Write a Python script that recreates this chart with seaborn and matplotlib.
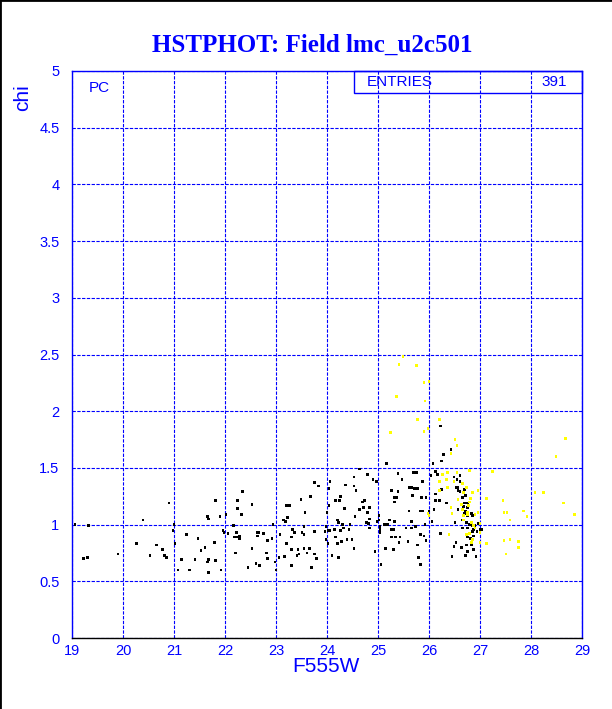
import matplotlib
matplotlib.use("Agg")
import matplotlib.pyplot as plt
import numpy as np
import pandas as pd
import seaborn as sns
from matplotlib.lines import Line2D
from matplotlib.patches import Rectangle
from matplotlib.ticker import MultipleLocator

# black points (main sample)
black_x = [
    19.06, 19.33, 19.22, 19.31, 19.90, 20.39, 20.27, 20.53, 20.65, 20.78, 20.82, 20.86, 20.90,
    20.98, 21.00, 21.02, 21.14, 21.08, 21.24, 21.31, 21.41, 21.47, 21.53, 21.61, 21.65, 21.67,
    21.67, 21.65, 21.67, 21.80, 21.82, 21.82, 21.90, 21.92, 22.02, 21.96, 21.98, 22.06, 22.16,
    22.18, 22.22, 22.22, 22.25, 22.24, 22.33, 22.35, 22.29, 22.29, 22.20, 22.45,
    22.53, 22.63, 22.65, 22.63, 22.76, 22.53, 22.61, 22.67, 22.82, 22.84, 22.92, 22.94, 22.84,
    23.00, 22.98, 23.08, 23.06, 23.16, 23.14, 23.18, 23.22, 23.21, 23.26, 23.20, 23.31, 23.33,
    23.31, 23.37, 23.31, 23.41, 23.45, 23.43, 23.49, 23.51, 23.55, 23.55, 23.57, 23.55, 23.61,
    23.65, 23.67, 23.69, 23.75, 23.76, 23.84, 23.76, 23.80, 23.96, 24.00, 23.98, 23.98, 24.02,
    24.02, 24.06, 24.04, 24.06, 24.04, 24.14, 24.16, 24.16, 24.20, 24.24, 24.20, 24.22, 24.27,
    24.27, 24.10, 24.22, 24.37, 24.35, 24.31, 24.29, 24.33, 24.39, 24.49, 24.45, 24.43, 24.53,
    24.53, 24.57, 24.53, 24.55, 24.63, 24.63, 24.69, 24.73, 24.71, 24.78, 24.80, 24.80, 24.82,
    24.84, 24.84, 24.84, 24.90, 24.96, 24.98, 24.94, 24.98, 25.02, 25.02, 25.04, 25.04, 25.06,
    25.04, 25.14, 25.12, 25.18, 25.16, 25.22, 25.27, 25.31, 25.27, 25.27, 25.31, 25.33, 25.37,
    25.33, 25.33, 25.35, 25.39, 25.39, 25.41, 25.43, 25.47, 25.55, 25.61, 25.61, 25.65, 25.59,
    25.65, 25.65, 25.67, 25.69, 25.75, 25.71, 25.73, 25.78, 25.78, 25.80, 25.84, 25.88, 25.86,
    25.88, 25.90, 25.92, 25.84,
    26.22, 26.43, 26.29, 26.24, 26.08, 26.12, 26.04, 26.16, 26.49, 26.55, 26.61, 26.24, 26.12,
    26.53, 26.57, 26.57, 26.61, 26.61, 26.69, 26.71, 26.65, 26.69, 26.75, 26.75, 26.67, 26.20,
    26.12, 25.94, 26.35, 26.00, 26.10, 26.57, 26.71, 26.69, 26.84, 26.86, 26.75, 26.06, 26.51,
    26.65, 26.73, 26.80, 26.86, 26.90, 26.96, 26.76, 26.65, 26.86, 26.88, 27.00, 27.04, 26.94,
    26.22, 25.84, 25.94, 26.76, 26.73, 26.84, 26.53, 26.49, 26.63, 26.82, 26.88, 26.76, 26.88,
    26.71, 26.45, 26.92,
]
black_y = [
    1.00, 0.99, 0.70, 0.71, 0.74, 1.04, 0.83, 0.73, 0.82, 0.78, 0.73, 0.71, 1.19,
    0.95, 1.00, 0.83, 0.69, 0.60, 0.91, 0.60, 0.69, 0.88, 0.77, 0.80, 0.67, 0.69,
    0.58, 1.07, 1.05, 0.84, 0.68, 1.21, 1.07, 0.60, 1.09, 0.95, 0.93, 0.92, 0.99,
    0.89, 0.89, 0.93, 1.21, 1.14, 1.09, 1.29, 0.90, 0.88, 0.75, 0.62,
    1.18, 0.93, 0.93, 0.90, 0.92, 0.79, 0.66, 0.64, 0.75, 0.86, 0.88, 1.00, 0.70,
    0.60, 0.67, 0.91, 0.71, 0.72, 1.04, 1.03, 1.06, 1.17, 1.17, 0.83, 0.64, 0.96,
    0.89, 0.93, 0.78, 0.73, 0.74, 0.78, 1.22, 0.93, 0.79, 0.98, 1.11, 0.91, 0.75,
    0.79, 1.25, 0.62, 0.94, 1.37, 1.34, 0.74, 0.70, 0.94, 1.11, 0.98, 0.87, 0.83,
    0.95, 0.95, 1.32, 1.38, 1.17, 0.96, 0.89, 1.21, 0.83, 1.21, 1.04, 1.02, 1.25,
    0.95, 0.73, 0.71, 1.35, 1.14, 1.00, 0.85, 0.97, 0.87, 0.87, 1.00, 0.96, 1.42,
    1.34, 1.30, 0.79, 1.07, 1.49, 1.13, 1.20, 1.21, 1.15, 1.02, 1.44, 1.11, 1.01,
    1.15, 1.05, 0.97, 1.40, 1.38, 1.38, 0.76, 1.03, 1.08, 1.04, 0.98, 0.96, 0.65,
    0.93, 0.79, 1.00, 1.00, 1.54, 1.04, 0.96, 0.96, 1.30, 0.89, 0.78, 1.24, 1.24,
    1.20, 1.03, 0.89, 1.45, 1.29, 0.84, 0.89, 1.40, 0.97, 1.12, 1.33, 1.33, 0.85,
    1.03, 0.97, 1.26, 1.46, 1.46, 1.32, 0.98, 0.82, 1.32, 0.71, 1.12, 1.12, 1.24,
    1.38, 0.90, 1.00, 0.65,
    1.87, 1.66, 1.62, 1.56, 1.54, 1.47, 1.43, 1.44, 1.42, 1.40, 1.43, 1.31, 1.27,
    1.33, 1.33, 1.30, 1.29, 1.38, 1.31, 1.26, 1.24, 1.19, 1.19, 1.15, 1.16, 1.21,
    1.21, 1.24, 1.19, 1.12, 1.13, 1.13, 1.12, 1.10, 1.10, 1.08, 1.08, 1.03, 1.02,
    1.04, 1.02, 1.00, 0.99, 0.99, 1.01, 0.97, 0.97, 0.94, 0.96, 0.96, 0.96, 0.94,
    0.92, 0.91, 0.86, 0.89, 0.82, 0.82, 0.84, 0.81, 0.80, 0.88, 0.90, 0.76, 0.78,
    0.73, 0.72, 0.72,
]

# yellow points (faint / rejected stars)
yellow_x = [
    25.49, 25.41, 25.75, 25.90, 26.00, 25.92, 25.37, 25.78, 26.20, 25.98, 25.90, 25.25, 26.51,
    26.55, 26.43, 26.80, 27.24, 26.27, 26.37, 26.55, 26.35, 26.49, 26.20, 26.37, 26.65, 26.73,
    26.20, 26.67, 26.86, 26.96, 26.82, 26.80, 26.63, 26.77, 26.43, 26.57, 27.12, 27.45, 26.65,
    26.76, 26.75, 26.45, 26.90, 26.96, 26.00, 26.67, 27.47, 27.53, 26.67, 26.84, 26.88, 26.90,
    27.00, 27.59, 27.00, 26.39, 26.73, 26.80, 26.86, 26.84, 27.00, 27.12, 27.47, 27.59, 27.75,
    27.76, 27.51, 25.98, 28.67, 28.49, 28.08, 28.25, 28.63, 28.86, 27.86, 27.92,
]
yellow_y = [
    2.48, 2.41, 2.40, 2.25, 2.26, 2.09, 2.13, 1.93, 1.93, 1.85, 1.82, 1.81, 1.75,
    1.70, 1.63, 1.48, 1.47, 1.44, 1.46, 1.46, 1.40, 1.38, 1.38, 1.33, 1.36, 1.33,
    1.30, 1.28, 1.28, 1.30, 1.23, 1.20, 1.18, 1.17, 1.15, 1.22, 1.23, 1.21, 1.13,
    1.11, 1.09, 1.10, 1.09, 1.11, 1.08, 1.08, 1.11, 1.11, 1.04, 1.02, 0.99, 0.97,
    1.01, 1.04, 0.93, 0.91, 0.91, 0.92, 0.87, 0.84, 0.84, 0.83, 0.86, 0.87, 0.85,
    0.80, 0.74, 1.10, 1.76, 1.60, 1.28, 1.28, 1.19, 1.09, 1.12, 1.07,
]

x_ticks = list(range(19, 30))
y_ticks = [0, 0.5, 1, 1.5, 2, 2.5, 3, 3.5, 4, 4.5, 5]
y_tick_labels = ["0", "0.5", "1", "1.5", "2", "2.5", "3", "3.5", "4", "4.5", "5"]
n_entries = 391

df = pd.concat([
    pd.DataFrame({"F555W": black_x, "chi": black_y, "group": "good"}),
    pd.DataFrame({"F555W": yellow_x, "chi": yellow_y, "group": "faint"}),
], ignore_index=True)

BLUE = "#0000ff"
sns.set_style("white")
plt.rcParams["font.family"] = ["Liberation Sans", "DejaVu Sans"]

fig = plt.figure(figsize=(6.12, 7.09), dpi=100)
ax = fig.add_axes([72 / 612, 71 / 709, 510 / 612, 567 / 709])

sns.scatterplot(data=df, x="F555W", y="chi", hue="group",
                palette={"good": "black", "faint": "#ffff00"},
                marker="s", s=4, linewidth=0, legend=False, ax=ax, zorder=3)

ax.set_xlim(19, 29)
ax.set_ylim(0, 5)
ax.set_xticks(x_ticks)
ax.set_xticklabels([str(t) for t in x_ticks])
ax.set_yticks(y_ticks)
ax.set_yticklabels(y_tick_labels)
ax.xaxis.set_minor_locator(MultipleLocator(0.2))
ax.yaxis.set_minor_locator(MultipleLocator(0.1))
ax.tick_params(which="both", direction="in", color=BLUE, labelcolor=BLUE,
               labelsize=10.5, width=1)
ax.tick_params(axis="x", which="major", length=6, pad=4)
ax.tick_params(axis="x", which="minor", length=4.5)
ax.tick_params(axis="y", which="major", length=5, pad=9)
ax.tick_params(axis="y", which="minor", length=3)
ax.set_xlabel("")
ax.set_ylabel("")

ax.set_axisbelow(True)
ax.grid(True, which="major", color=BLUE, linestyle=(0, (3, 1.3)), linewidth=0.8)
for side in ["left", "top", "right"]:
    ax.spines[side].set_color(BLUE)
    ax.spines[side].set_linewidth(1)
ax.spines["bottom"].set_color("black")
ax.spines["bottom"].set_linewidth(1)

# statistics box in the top right corner
ax.add_patch(Rectangle((282 / 510, 545 / 567), 228 / 510, 22 / 567, transform=ax.transAxes,
                       fill=False, edgecolor=BLUE, linewidth=1, clip_on=False, zorder=5))
ax.text(295 / 510, 556 / 567, "ENTRIES", transform=ax.transAxes, color=BLUE,
        fontsize=11, ha="left", va="center")
ax.text(495 / 510, 556 / 567, str(n_entries), transform=ax.transAxes, color=BLUE,
        fontsize=11, ha="right", va="center")
ax.text(17 / 510, 550 / 567, "PC", transform=ax.transAxes, color=BLUE,
        fontsize=11, ha="left", va="center")

fig.text(312 / 612, 1 - 45 / 709, "HSTPHOT: Field lmc_u2c501", color=BLUE,
         family="Liberation Serif", fontweight="bold", fontsize=18, ha="center", va="center")
fig.text(360 / 612, 1 - 667 / 709, "F555W", color=BLUE, fontsize=15, ha="right", va="center")
fig.text(23 / 612, 1 - 84 / 709, "chi", color=BLUE, fontsize=15, rotation=90,
         ha="center", va="top")

# frame on the left and top edges of the canvas
fig.add_artist(Line2D([0, 0], [0, 1], transform=fig.transFigure, color="black", lw=2))
fig.add_artist(Line2D([0, 1], [1, 1], transform=fig.transFigure, color="black", lw=2))

fig.savefig("out.png", dpi=100, facecolor="white")
